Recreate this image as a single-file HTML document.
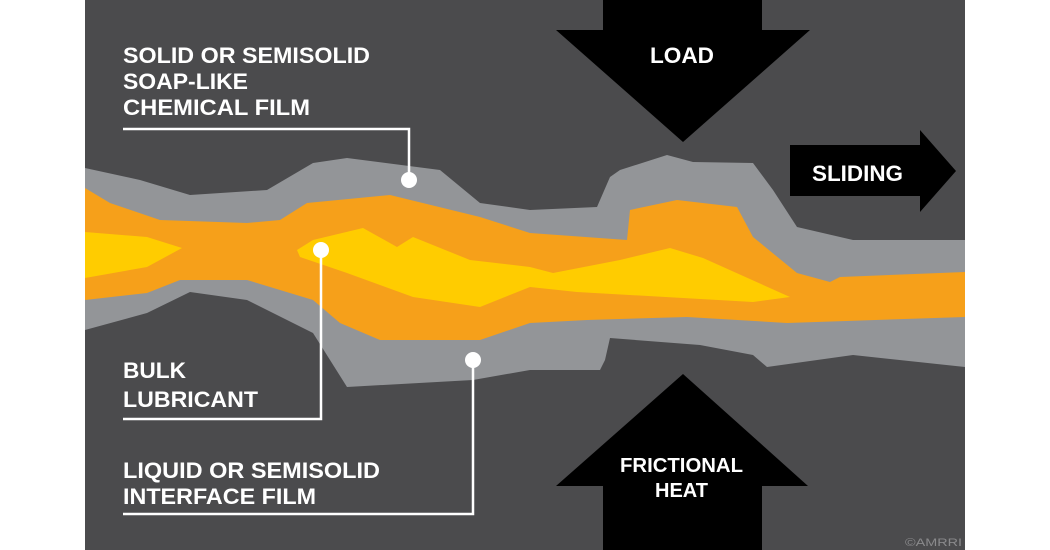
<!DOCTYPE html>
<html><head><meta charset="utf-8"><style>html,body{margin:0;padding:0;background:#fff}svg{display:block}</style></head>
<body>
<svg width="1050" height="550" viewBox="0 0 1050 550" xmlns="http://www.w3.org/2000/svg" font-family="'Liberation Sans', sans-serif" font-weight="bold">
<rect x="0" y="0" width="1050" height="550" fill="#fff"/>
<rect x="85" y="0" width="880" height="550" fill="#4b4b4d"/>
<!-- gray band -->
<path fill="#939598" d="M85,168 L140,180 L190,195 L267,190 L313,163 L347,158 L440,170 L480,203 L530,210 L597,207 L610,177 L620,170 L667,155 L693,162 L753,163 L773,190 L797,227 L853,240 L965,240 L965,367 L853,355 L767,367 L753,355 L700,345 L610,338 L605,360 L600,370 L530,370 L473,380 L347,387 L330,360 L313,333 L247,300 L190,292 L147,313 L85,330 Z"/>
<!-- orange band -->
<path fill="#f6a01a" d="M85,188 L110,203 L160,220 L247,223 L280,220 L307,203 L390,195 L480,217 L530,233 L627,240 L630,210 L677,200 L737,207 L753,237 L797,273 L830,282 L840,277 L965,272 L965,317 L787,323 L687,317 L587,320 L530,323 L480,340 L380,340 L340,323 L313,300 L247,280 L180,280 L147,293 L85,300 Z"/>
<!-- yellow -->
<path fill="#ffcc00" d="M85,232 L147,237 L182,248 L147,267 L85,278 Z"/>
<path fill="#ffcc00" d="M297,250 L313,240 L363,228 L397,247 L413,237 L470,260 L530,267 L553,273 L620,260 L670,248 L703,258 L790,297 L753,302 L577,292 L530,287 L480,307 L413,297 L347,273 L300,257 Z"/>
<!-- connector lines -->
<g stroke="#fff" stroke-width="2.5" fill="none">
<polyline points="123,129 409,129 409,180"/>
<polyline points="123,419 321,419 321,250"/>
<polyline points="123,514 473,514 473,360"/>
</g>
<g fill="#fff">
<circle cx="409" cy="180" r="8"/>
<circle cx="321" cy="250" r="8"/>
<circle cx="473" cy="360" r="8"/>
</g>
<!-- arrows -->
<polygon fill="#000" points="603,0 762,0 762,30 810,30 683,142 556,30 603,30"/>
<polygon fill="#000" points="683,374 808,486 762,486 762,550 603,550 603,486 556,486"/>
<polygon fill="#000" points="790,145 920,145 920,130 956,171 920,212 920,196 790,196"/>
<!-- text -->
<g fill="#fff" font-size="22">
<text x="123" y="63" textLength="247" lengthAdjust="spacingAndGlyphs">SOLID OR SEMISOLID</text>
<text x="123" y="89" textLength="125" lengthAdjust="spacingAndGlyphs">SOAP-LIKE</text>
<text x="123" y="115" textLength="187" lengthAdjust="spacingAndGlyphs">CHEMICAL FILM</text>
<text x="123" y="378" textLength="63" lengthAdjust="spacingAndGlyphs">BULK</text>
<text x="123" y="407" textLength="135" lengthAdjust="spacingAndGlyphs">LUBRICANT</text>
<text x="123" y="478" textLength="257" lengthAdjust="spacingAndGlyphs">LIQUID OR SEMISOLID</text>
<text x="123" y="504" textLength="193" lengthAdjust="spacingAndGlyphs">INTERFACE FILM</text>
<text x="650" y="63" textLength="64" lengthAdjust="spacingAndGlyphs">LOAD</text>
<text x="812" y="181" textLength="91" lengthAdjust="spacingAndGlyphs">SLIDING</text>
</g>
<g fill="#fff" font-size="20">
<text x="620" y="472" textLength="123" lengthAdjust="spacingAndGlyphs">FRICTIONAL</text>
<text x="655" y="497" textLength="53" lengthAdjust="spacingAndGlyphs">HEAT</text>
</g>
<text x="905" y="546" fill="#8a8a8c" font-size="11" font-weight="normal" textLength="57" lengthAdjust="spacingAndGlyphs">©AMRRI</text>
</svg>
</body></html>
